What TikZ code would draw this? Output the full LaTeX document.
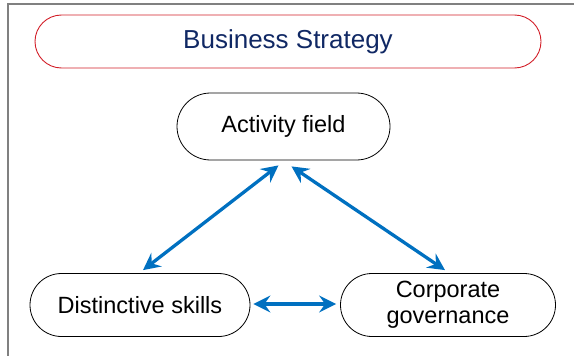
\documentclass[tikz,border=0pt]{standalone}
\usepackage{fontspec}
\setmainfont{Liberation Sans}
\usetikzlibrary{shapes.misc,arrows.meta,calc}
\definecolor{arrowblue}{RGB}{0,112,192}
\definecolor{titleblue}{RGB}{16,40,100}
\definecolor{titlered}{RGB}{210,30,40}
\definecolor{framegray}{RGB}{128,128,128}
\begin{document}
\begin{tikzpicture}[x=1pt,y=-1pt,
  pill/.style={rounded rectangle, draw=black, line width=0.8pt, align=center,
    font=\fontsize{23.5}{26}\selectfont, inner sep=0pt},
  titlepill/.style={rounded rectangle, draw=titlered, line width=0.9pt,
    text=titleblue, font=\fontsize{26}{30}\selectfont, inner sep=0pt},
  link/.style={draw=arrowblue, line width=3.3pt,
    {Stealth[length=17pt,width=17pt,inset=6pt]}-{Stealth[length=17pt,width=17pt,inset=6pt]}}
]
\useasboundingbox (0,0) rectangle (574,356);
\draw[framegray, line width=1.5pt] (8,356) -- (8,4) -- (574,4);
\node[titlepill, minimum width=506pt, minimum height=53pt] (bs) at (288,41.5) {Business Strategy};
\node[pill, minimum width=213pt, minimum height=67pt] (af) at (283.5,126.5) {Activity field};
\node[pill, minimum width=220pt, minimum height=63pt] (ds) at (140,305) {Distinctive skills};
\node[pill, minimum width=215pt, minimum height=63pt] (cg) at (448,305) {Corporate\\governance};
\draw[link] ($(af.south)+(-5,5)$) -- ($(ds.north)+(3,-3)$);
\draw[link] ($(af.south)+(8,6)$) -- ($(cg.north)+(-3,-3)$);
\draw[link] ($(ds.east)+(3,-1)$) -- ($(cg.west)+(-4,-1)$);
\end{tikzpicture}
\end{document}
